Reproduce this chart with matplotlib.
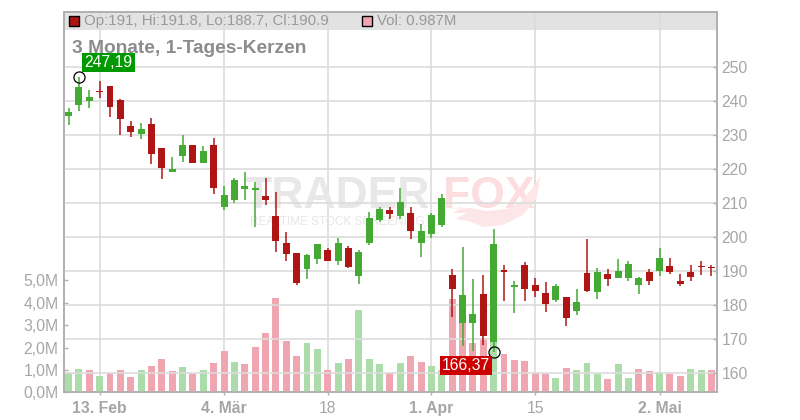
import numpy as np
import matplotlib
matplotlib.use("Agg")
import matplotlib.pyplot as plt
from matplotlib.patches import Rectangle, Polygon

plt.rcParams["font.family"] = ["Liberation Sans", "DejaVu Sans"]

# candle values
opens = [235.7, 239.0, 240.2, 242.9, 244.5, 240.4, 232.7, 230.4, 233.3, 226.3, 219.3, 224.0, 227.2,
         221.9, 227.2, 209.0, 211.0, 214.3, 213.9, 212.1, 206.3, 198.3, 195.4, 190.7, 193.6, 196.3,
         193.0, 196.9, 188.6, 198.3, 205.1, 208.0, 206.3, 207.1, 198.3, 201.0, 203.6, 188.9, 174.9,
         174.9, 183.3, 169.3, 190.5, 185.4, 191.9, 186.0, 183.6, 181.6, 182.4, 178.3, 189.5, 183.9,
         189.2, 188.0, 188.0, 186.0, 189.8, 190.1, 191.6, 187.2, 189.8, 191.6, 191.0]
closes = [236.9, 244.1, 241.3, 242.6, 238.4, 234.9, 231.0, 231.9, 224.6, 220.5, 220.1, 227.2, 221.9,
          225.4, 214.6, 212.4, 216.9, 215.1, 214.4, 211.0, 199.0, 195.2, 186.6, 194.8, 198.0, 193.0,
          198.3, 191.3, 195.7, 205.7, 208.3, 206.9, 210.4, 201.9, 201.9, 206.6, 211.6, 184.8, 183.0,
          177.4, 171.1, 198.0, 189.8, 186.0, 184.9, 184.2, 180.5, 185.7, 176.4, 181.0, 184.2, 189.8,
          187.7, 190.1, 192.1, 188.0, 187.1, 193.9, 189.8, 186.3, 188.3, 191.3, 190.9]
highs = [238.0, 247.19, 243.3, 246.0, 244.5, 240.7, 234.2, 233.6, 235.1, 226.3, 223.6, 230.1, 227.2,
         226.9, 229.2, 215.1, 217.4, 219.2, 216.3, 217.4, 213.2, 201.6, 195.4, 195.1, 198.0, 196.9,
         199.8, 197.4, 196.3, 207.4, 208.9, 208.9, 214.5, 208.9, 203.9, 207.1, 212.7, 190.7, 197.1,
         187.7, 188.9, 202.4, 191.9, 187.1, 192.7, 188.0, 186.9, 186.3, 182.4, 184.8, 199.5, 191.0,
         190.7, 193.6, 193.0, 188.3, 190.7, 196.9, 193.9, 189.2, 191.9, 193.0, 191.8]
lows = [233.0, 237.2, 238.1, 241.1, 235.5, 230.2, 229.6, 229.0, 221.6, 217.2, 219.3, 222.2, 221.9,
        221.9, 212.8, 208.0, 210.2, 211.0, 203.1, 209.5, 195.8, 193.1, 186.0, 187.7, 192.1, 193.0,
        191.9, 191.0, 186.3, 197.7, 204.5, 205.4, 205.4, 199.5, 194.2, 199.8, 203.0, 176.6, 168.0,
        166.6, 168.3, 166.37, 181.4, 177.8, 181.4, 182.4, 178.1, 181.0, 174.0, 177.1, 183.9, 181.9,
        185.7, 188.0, 187.1, 183.3, 186.0, 188.6, 189.2, 185.7, 187.1, 188.9, 188.7]
volumes = [0.86, 1.04, 1.0, 0.73, 0.86, 1.0, 0.68, 1.0, 1.18, 1.49, 0.95, 1.13, 0.82, 1.0, 1.31, 1.85,
           1.35, 1.26, 2.02, 2.65, 4.21, 2.29, 1.62, 2.2, 1.93, 1.0, 1.31, 1.49, 3.68, 1.49, 1.26, 0.86,
           1.31, 1.62, 1.35, 1.18, 1.0, 4.17, 3.1, 2.2, 2.43, 2.5, 1.71, 1.44, 1.4, 0.86, 0.82, 0.64,
           1.09, 1.0, 1.31, 0.82, 0.6, 1.26, 0.64, 1.04, 0.95, 0.91, 0.82, 0.73, 1.04, 1.0, 1.0]
vol_green = [0, 1, 3, 7, 11, 13, 16, 23, 24, 26, 28, 29, 30, 32, 35, 36, 41, 47, 49, 50, 51, 53, 54, 57, 60, 61]

date_pos = [3, 15, 25, 35, 45, 57]
date_labels = ["13. Feb", "4. Mär", "18", "1. Apr", "15", "2. Mai"]
bold_dates = ["13. Feb", "4. Mär", "1. Apr", "2. Mai"]
price_ticks = [160, 170, 180, 190, 200, 210, 220, 230, 240, 250]
vol_ticks = [0, 1, 2, 3, 4, 5]
vol_labels = ["0,0M", "1,0M", "2,0M", "3,0M", "4,0M", "5,0M"]

GREEN = "#44aa33"
RED = "#b01515"
LGREEN = "#acdcaa"
LRED = "#f0a6b0"
GRID = "#dcdcdc"
SPINE = "#b0b0b0"
TXT = "#a6a6a6"
W, H = 652.5, 380.3

fig = plt.figure(figsize=(8, 4.2), dpi=100)
ax_vol = fig.add_axes([64 / 800, 27.7 / 420, W / 800, H / 420])
ax = ax_vol.twinx()

x = np.arange(len(opens))
bar_w = 0.67

# header band sits under the vertical grid lines
ax_vol.add_patch(Rectangle((0, 1 - 18 / H), 1, 18 / H, transform=ax_vol.transAxes, fc="#e2e2e2", ec="none", zorder=0.2))

# volume goes underneath
vol_cols = [LGREEN if i in vol_green else LRED for i in x]
ax_vol.bar(x, volumes, width=bar_w, color=vol_cols, zorder=3)
ax_vol.set_xlim(-0.434, 62.49)
ax_vol.set_ylim(0, 16.98)
ax_vol.set_yticks(vol_ticks)
ax_vol.set_yticklabels(vol_labels)
ax_vol.set_xticks(date_pos)
ax_vol.set_xticklabels(date_labels)
ax_vol.tick_params(axis="y", direction="in", length=3, width=1, color=SPINE, labelcolor=TXT, labelsize=11.3, pad=4)
ax_vol.tick_params(axis="x", direction="out", length=2.5, width=1, color=SPINE, labelcolor=TXT, labelsize=11.3, pad=4)
for lab in ax_vol.get_xticklabels():
    if lab.get_text() in bold_dates:
        lab.set_fontweight("bold")
ax_vol.xaxis.grid(True, color=GRID, lw=1.2)
ax_vol.set_axisbelow(True)

# watermark
wm = ax_vol.transAxes
ax_vol.text(0.277, 0.4846, "TRADER", transform=wm, fontsize=32, fontweight="bold", color="#e8e8e8", va="baseline", zorder=1)
ax_vol.text(0.581, 0.4846, "FOX", transform=wm, fontsize=32, fontweight="bold", color="#fcdde0", va="baseline", zorder=1)
ax_vol.text(0.285, 0.44, "REALTIME STOCK SCREENING", transform=wm, fontsize=8.5, color="#e6e6e6", va="baseline", zorder=1)
tail_px = [(450, 209), (463, 207), (453, 213), (467, 213), (455, 219), (468, 221), (483, 227), (503, 225),
           (523, 215), (537, 198), (540, 177), (531, 190), (520, 203), (507, 209), (487, 211), (470, 208)]
tail_ax = [((px - 64) / W, (392.3 - py) / H) for px, py in tail_px]
ax_vol.add_patch(Polygon(tail_ax, closed=True, transform=wm, fc="#fde6e8", ec="none", zorder=1))

# price panel on top
ax.set_zorder(ax_vol.get_zorder() + 1)
ax.patch.set_visible(False)
ax.set_ylim(154.41, 266.26)
ax.set_yticks(price_ticks)
ax.tick_params(axis="y", direction="in", length=3, width=1, color=SPINE, labelcolor=TXT, labelsize=11.3, pad=3.5)
ax.yaxis.grid(True, color=GRID, lw=1.2, zorder=0)
ax.set_axisbelow(True)

for i in x:
    col = GREEN if closes[i] >= opens[i] else RED
    if i == 3 or i == 61 or i == 62:
        col = RED
    ax.vlines(i, lows[i], highs[i], color=col, lw=1.1, zorder=4)
    bottom = min(opens[i], closes[i])
    height = max(abs(closes[i] - opens[i]), 0.25)
    ax.bar(i, height, bottom=bottom, width=bar_w, color=col, lw=0, zorder=5)

for spine in list(ax.spines.values()) + list(ax_vol.spines.values()):
    spine.set_color(SPINE)
    spine.set_linewidth(1.2)

# high / low markers
hi_i = int(np.argmax(highs))
lo_i = int(np.argmin(lows))
ax.plot([hi_i], [highs[hi_i]], "o", ms=8, mfc="none", mec="black", mew=0.9, zorder=7)
ax.plot([lo_i], [lows[lo_i]], "o", ms=8, mfc="none", mec="black", mew=0.9, zorder=7)
ax.annotate("247,19", (hi_i, highs[hi_i]), xytext=(4, 4.8), textcoords="offset points", color="white", fontsize=11.3,
            va="bottom", ha="left", zorder=8, bbox=dict(boxstyle="square,pad=0.13", fc="#009900", ec="none"))
ax.annotate("166,37", (lo_i, lows[lo_i]), xytext=(-2.5, -4.5), textcoords="offset points", color="white", fontsize=11.3,
            va="top", ha="right", zorder=8, bbox=dict(boxstyle="square,pad=0.13", fc="#cc0000", ec="none"))

# header texts and colour boxes
ax.add_patch(Rectangle((4.5 / W, 1 - 14.5 / H), 10 / W, 10 / H, transform=ax.transAxes, fc=RED, ec="black", lw=1, zorder=7))
ax.add_patch(Rectangle((297.5 / W, 1 - 14.5 / H), 10 / W, 10 / H, transform=ax.transAxes, fc=LRED, ec="black", lw=1, zorder=7))
ax.text(20 / W, 1 - 9 / H, "Op:191, Hi:191.8, Lo:188.7, Cl:190.9", transform=ax.transAxes, fontsize=10.8,
        color="#999999", va="center", zorder=7)
ax.text(313 / W, 1 - 9 / H, "Vol: 0.987M", transform=ax.transAxes, fontsize=10.8, color="#999999", va="center", zorder=7)
ax.text(8 / W, 1 - 36.5 / H, "3 Monate, 1-Tages-Kerzen", transform=ax.transAxes, fontsize=13.75, fontweight="bold",
        color="#8c8c8c", va="center", zorder=7)

fig.savefig("out.png", dpi=100)
